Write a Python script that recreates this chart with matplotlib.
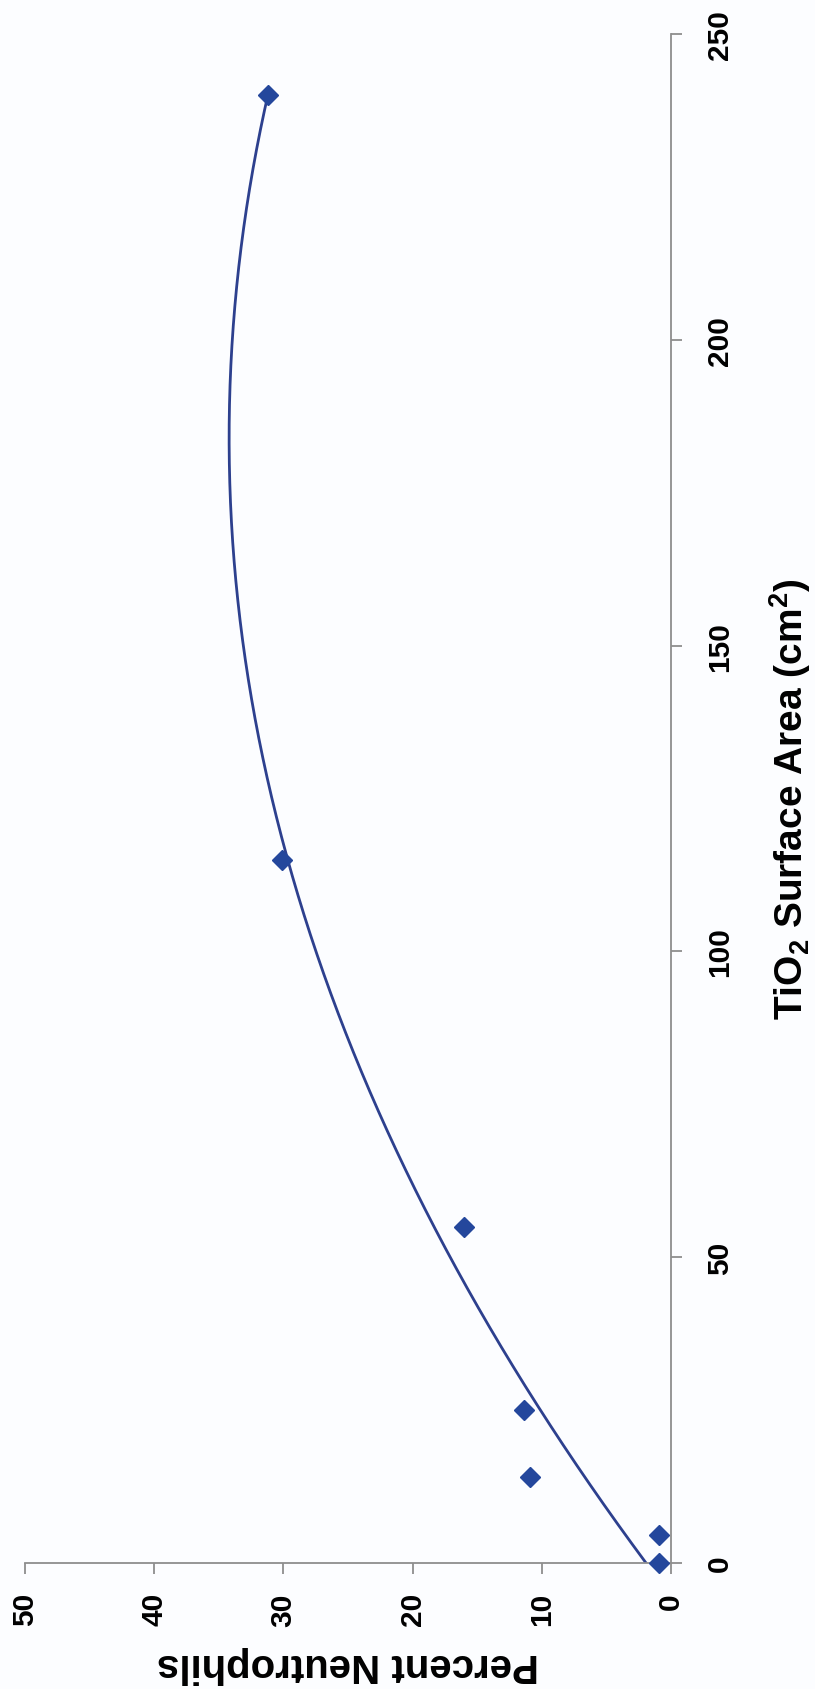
import numpy as np
import matplotlib
matplotlib.use("Agg")
import matplotlib.pyplot as plt

# TiO2 surface area (cm^2) and percent neutrophils
surface_area = [0, 4.5, 14, 25, 55, 115, 240]
neutrophils = [0.9, 0.9, 10.9, 11.4, 16.0, 30.1, 31.2]

area_ticks = [0, 50, 100, 150, 200, 250]
pct_ticks = [0, 10, 20, 30, 40, 50]

plt.rcParams["font.family"] = ["Liberation Sans", "DejaVu Sans"]
plt.rcParams["font.weight"] = "bold"
plt.rcParams["mathtext.fontset"] = "custom"
plt.rcParams["mathtext.bf"] = "Liberation Sans:bold"
plt.rcParams["mathtext.rm"] = "Liberation Sans:bold"
plt.rcParams["mathtext.default"] = "bf"

bg = "#fcfdff"
axis_col = "#8e8e8e"
mark_col = "#24479c"
line_col = "#2d408e"

fig = plt.figure(figsize=(8.15, 16.9), dpi=100, facecolor=bg)
ax = fig.add_axes([25 / 815, 1 - 1564 / 1690, (671 - 25) / 815, (1564 - 35) / 1690])
ax.set_facecolor(bg)

# chart is drawn turned a quarter turn: area runs upward, percent runs leftward
coef = np.polyfit(surface_area, neutrophils, 2)
xs = np.linspace(min(surface_area), max(surface_area), 300)
ax.plot(np.polyval(coef, xs), xs, color=line_col, lw=2.0, zorder=2)
ax.plot(neutrophils, surface_area, ls="none", marker="D", ms=10,
        color=mark_col, mec=mark_col, zorder=3, clip_on=False)

ax.set_xlim(50, 0)
ax.set_ylim(0, 250)
ax.set_xticks(pct_ticks)
ax.set_yticks(area_ticks)
ax.set_xticklabels([str(t) for t in pct_ticks], rotation=90, fontsize=21.5,
                   fontweight="bold")
ax.set_yticklabels([str(t) for t in area_ticks], rotation=90, fontsize=21.5,
                   fontweight="bold", va="center")

ax.yaxis.tick_right()
for side in ("top", "left"):
    ax.spines[side].set_visible(False)
for side in ("bottom", "right"):
    ax.spines[side].set_color(axis_col)
    ax.spines[side].set_linewidth(1.3)
ax.tick_params(axis="x", direction="out", length=8, width=1.3, color=axis_col,
               pad=13)
ax.tick_params(axis="y", direction="out", length=8, width=1.3, color=axis_col,
               pad=17, right=True, left=False)

fig.text(348 / 815, 1 - 1665 / 1690, "Percent Neutrophils", rotation=180,
         ha="center", va="center", fontsize=29, fontweight="bold")
fig.text(790 / 815, 1 - 799 / 1690, r"TiO$_2$ Surface Area (cm$^2$)",
         rotation=90, ha="center", va="center", fontsize=28, fontweight="bold")

fig.savefig("out.png", dpi=100, facecolor=bg)
